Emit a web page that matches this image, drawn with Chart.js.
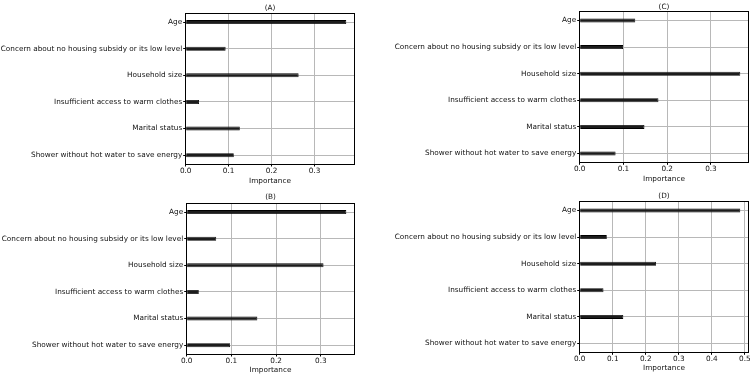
<!DOCTYPE html>
<html>
<head>
<meta charset="utf-8">
<title>Feature importance</title>
<script src="https://cdn.jsdelivr.net/npm/chart.js@4/dist/chart.umd.min.js"></script>
<style>
  body { margin: 0; background: #fff; }
  #wrap { position: relative; width: 750px; height: 376px; }
  canvas { position: absolute; }
</style>
</head>
<body>
<div id="wrap">
  <canvas id="panelA" width="375" height="188" style="left:0;top:0"></canvas>
  <canvas id="panelB" width="375" height="188" style="left:0;top:188px"></canvas>
  <canvas id="panelC" width="375" height="188" style="left:375px;top:0"></canvas>
  <canvas id="panelD" width="375" height="188" style="left:375px;top:188px"></canvas>
</div>
<script>
(function() {
  'use strict';

  // features (top to bottom)
  const categories = [
    'Age',
    'Concern about no housing subsidy or its low level',
    'Household size',
    'Insufficient access to warm clothes',
    'Marital status',
    'Shower without hot water to save energy'
  ];
  // importance values
  const valuesA = [0.374, 0.093, 0.263, 0.031, 0.126, 0.112];
  const valuesB = [0.357, 0.066, 0.306, 0.027, 0.158, 0.097];
  const valuesC = [0.127, 0.099, 0.367, 0.180, 0.148, 0.082];
  const valuesD = [0.486, 0.082, 0.231, 0.072, 0.132, 0.000];
  const panelTitles = ['(A)', '(B)', '(C)', '(D)'];
  const xTitle = 'Importance';
  const xStep = 0.1;

  const font = { family: 'DejaVu Sans', size: 7.3 };
  const textColor = '#111';
  const gridColor = '#b8b8b8';

  // box = plot area inside the canvas + title centres
  function makePanel(id, values, title, box) {
    const ctx = document.getElementById(id).getContext('2d');
    const W = 375, H = 188;
    const lh = font.size * 1.2;
    new Chart(ctx, {
      type: 'bar',
      data: {
        datasets: [{
          data: values.map((v, i) => ({ x: v, y: i })),
          backgroundColor: '#1c1c1c',
          borderColor: '#000',
          borderWidth: 0.8,
          borderSkipped: false,
          barPercentage: 0.15,
          categoryPercentage: 1
        }]
      },
      options: {
        indexAxis: 'y',
        responsive: false,
        animation: false,
        layout: { padding: 0 },
        plugins: { legend: { display: false }, tooltip: { enabled: false } },
        scales: {
          x: {
            type: 'linear',
            position: 'bottom',
            min: 0,
            max: Math.max(...values) * 1.05,
            afterFit: s => { s.height = H - box.b; s.paddingLeft = 0; s.paddingRight = 0; },
            ticks: {
              stepSize: xStep, includeBounds: false, maxRotation: 0, autoSkip: false,
              padding: 0, color: textColor, font: font,
              callback: v => v.toFixed(1)
            },
            grid: { color: gridColor, tickColor: '#000', tickLength: 2.5 },
            border: { color: '#000' },
            title: {
              display: true, text: xTitle, color: textColor, font: font,
              padding: { top: 0, bottom: (H - box.xt) - lh / 2 }
            }
          },
          y: {
            type: 'linear',
            position: 'left',
            reverse: true,
            offset: false,
            min: -0.33,
            max: categories.length - 1 + 0.33,
            afterFit: s => { s.width = box.l; s.paddingTop = 0; s.paddingBottom = 0; },
            ticks: {
              stepSize: 1, includeBounds: false, autoSkip: false,
              padding: 1, color: textColor, font: font,
              callback: v => categories[v]
            },
            grid: { offset: false, color: gridColor, tickColor: '#000', tickLength: 2.5 },
            border: { color: '#000' }
          },
          // top and right frame, panel title on top
          x2: {
            type: 'linear',
            position: 'top',
            afterFit: s => { s.height = box.t; s.paddingLeft = 0; s.paddingRight = 0; },
            ticks: { display: false },
            grid: { display: false, drawTicks: false },
            border: { color: '#000' },
            title: {
              display: true, text: title, color: textColor, font: font,
              padding: { top: box.tt - lh / 2, bottom: 0 }
            }
          },
          y2: {
            type: 'linear',
            position: 'right',
            afterFit: s => { s.width = W - box.r; s.paddingTop = 0; s.paddingBottom = 0; },
            ticks: { display: false },
            grid: { display: false, drawTicks: false },
            border: { color: '#000' }
          }
        }
      }
    });
  }

  makePanel('panelA', valuesA, panelTitles[0], { l: 185.7, r: 354.3, t: 13.3, b: 164, tt: 8, xt: 181 });
  makePanel('panelB', valuesB, panelTitles[1], { l: 186.7, r: 354.3, t: 15.3, b: 166, tt: 8.7, xt: 182.3 });
  makePanel('panelC', valuesC, panelTitles[2], { l: 204.7, r: 373.3, t: 11.7, b: 162.3, tt: 6.7, xt: 179 });
  makePanel('panelD', valuesD, panelTitles[3], { l: 204.7, r: 373.3, t: 13.7, b: 164.3, tt: 8, xt: 180.3 });
})();
</script>
</body>
</html>
